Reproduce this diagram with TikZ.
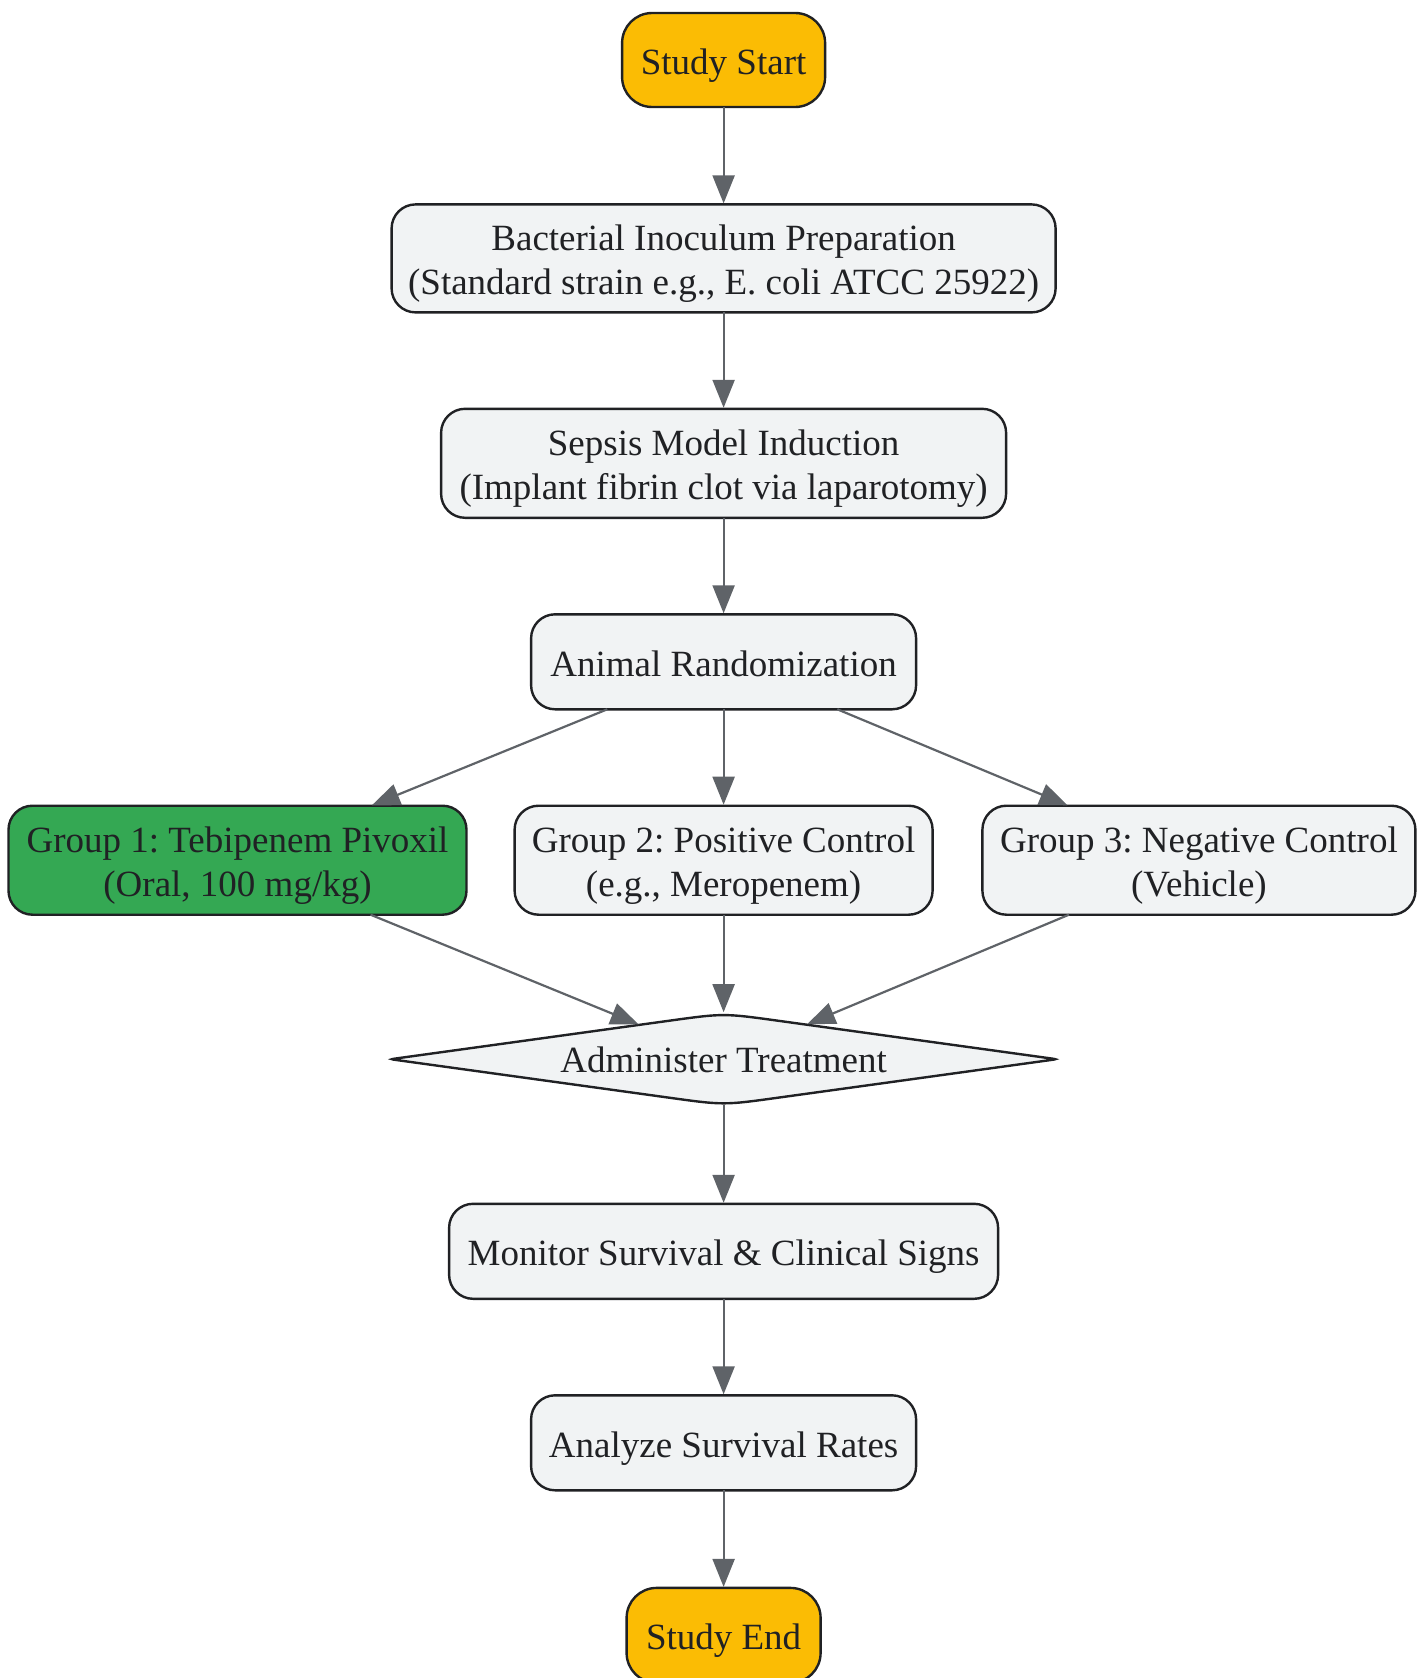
\documentclass[tikz,border=0pt]{standalone}
\usepackage{fontspec}
\setmainfont{Liberation Serif}
\usetikzlibrary{arrows.meta,shapes.geometric,calc}
\definecolor{ink}{HTML}{202124}
\definecolor{boxfill}{HTML}{F1F3F4}
\definecolor{edgecol}{HTML}{5F6368}
\definecolor{startcol}{HTML}{FBBC04}
\definecolor{greencol}{HTML}{34A853}
\newcommand{\lbl}[2][-5pt]{\raisebox{#1}[\height][\depth]{\begin{tabular}{@{}c@{}}#2\end{tabular}}}
\tikzset{
  base/.style={draw=ink, line width=2.4pt, text=ink, align=center, inner sep=0pt, outer sep=0pt,
    font=\fontsize{37}{44}\selectfont\frenchspacing},
  procbox/.style={base, rectangle, rounded corners=24pt, fill=boxfill},
  termbox/.style={base, rectangle, rounded corners=30pt, fill=startcol},
  greenbox/.style={base, rectangle, rounded corners=24pt, fill=greencol},
  decbox/.style={diamond, inner sep=0pt, outer sep=0pt},
  conn/.style={draw=edgecol, line width=2.2pt, shorten >=1pt,
    -{Triangle[length=28pt,width=22pt]}},
}
\begin{document}
\begin{tikzpicture}[x=1pt,y=-1pt]
\useasboundingbox (0,0) rectangle (1423,1678);
\node[termbox, minimum width=203pt, minimum height=94pt] (start) at (723.6,60) {\lbl[-5.5pt]{Study Start}};
\node[procbox, minimum width=664pt, minimum height=108pt] (bact) at (723.6,258.4) {\lbl{Bacterial Inoculum Preparation\\(Standard strain e.g., E. coli ATCC 25922)}};
\node[procbox, minimum width=565pt, minimum height=109pt] (seps) at (723.6,463.3) {\lbl{Sepsis Model Induction\\(Implant fibrin clot via laparotomy)}};
\node[procbox, minimum width=385pt, minimum height=95pt] (rand) at (723.6,661.8) {\lbl[-5.5pt]{Animal Randomization}};
\node[greenbox, minimum width=458pt, minimum height=109pt] (g1) at (237.5,860.2) {\lbl{Group 1: Tebipenem Pivoxil\\(Oral, 100 mg/kg)}};
\node[procbox, minimum width=418pt, minimum height=109pt] (g2) at (723.6,860.2) {\lbl{Group 2: Positive Control\\(e.g., Meropenem)}};
\node[procbox, minimum width=433pt, minimum height=109pt] (g3) at (1198.9,860.2) {\lbl{Group 3: Negative Control\\(Vehicle)}};
\node[decbox, minimum width=666pt, minimum height=92pt] (adm) at (723.6,1059.2) {};
\coordinate (dW) at (adm.west);
\coordinate (dN) at (adm.north);
\coordinate (dE) at (adm.east);
\coordinate (dS) at (adm.south);
\draw[draw=ink, fill=boxfill, line width=2.4pt]
  ($(dW)!6pt!(dN)$) -- ($(dN)!55pt!(dW)$) .. controls (dN) .. ($(dN)!55pt!(dE)$)
  -- ($(dE)!6pt!(dN)$) .. controls (dE) .. ($(dE)!6pt!(dS)$)
  -- ($(dS)!55pt!(dE)$) .. controls (dS) .. ($(dS)!55pt!(dW)$)
  -- ($(dW)!6pt!(dS)$) .. controls (dW) .. cycle;
\node[text=ink, font=\fontsize{37}{44}\selectfont, inner sep=0pt] (admtext) at (adm.center) {\lbl[-4.5pt]{Administer Treatment}};
\node[procbox, minimum width=549pt, minimum height=95pt] (mon) at (723.6,1251.3) {\lbl[-5.5pt]{Monitor Survival \& Clinical Signs}};
\node[procbox, minimum width=385pt, minimum height=95pt] (ana) at (723.6,1442.8) {\lbl[-5.5pt]{Analyze Survival Rates}};
\node[termbox, minimum width=194pt, minimum height=95pt] (fin) at (723.6,1635.4) {\lbl[-5.5pt]{Study End}};
\draw[conn] (start) -- (bact);
\draw[conn] (bact) -- (seps);
\draw[conn] (seps) -- (rand);
\draw[conn] (rand) -- (g1);
\draw[conn] (rand) -- (g2);
\draw[conn] (rand) -- (g3);
\draw[conn] (g1) -- (adm);
\draw[conn] (g2) -- (adm.north);
\draw[conn] (g3) -- (adm);
\draw[conn] (adm.south) -- (mon);
\draw[conn] (mon) -- (ana);
\draw[conn] (ana) -- (fin);
\end{tikzpicture}
\end{document}
